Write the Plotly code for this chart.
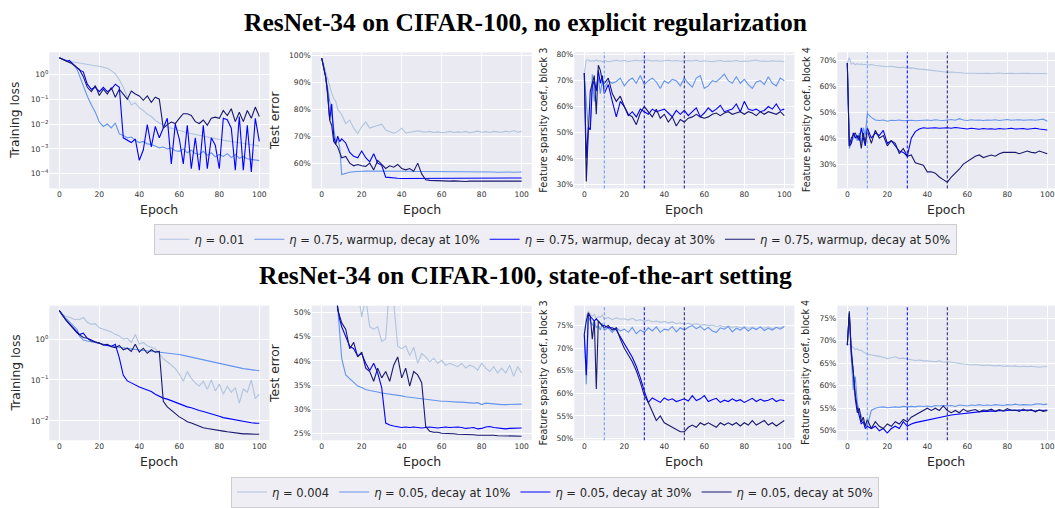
import plotly.graph_objects as go

# ---------------- data ----------------
EPOCHS = [0, 1, 2, 3, 4, 5, 6, 7, 8, 9,
          10, 12, 14, 16, 18, 20, 22, 24, 26, 28,
          30, 32, 34, 36, 38, 40, 42, 44, 46, 48,
          50, 52, 54, 56, 58, 60, 62, 64, 66, 68,
          70, 72, 74, 76, 78, 80, 82, 84, 86, 88,
          90, 92, 94, 96, 98, 100]

NOREG_LABELS = ["<i>η</i> = 0.01", "<i>η</i> = 0.75, warmup, decay at 10%",
                "<i>η</i> = 0.75, warmup, decay at 30%", "<i>η</i> = 0.75, warmup, decay at 50%"]
SOTA_LABELS = ["<i>η</i> = 0.004", "<i>η</i> = 0.05, decay at 10%",
               "<i>η</i> = 0.05, decay at 30%", "<i>η</i> = 0.05, decay at 50%"]
DECAY_EPOCHS = [10, 30, 50]

# Row 1: no explicit regularization -- training loss
NOREG_LOSS_LR001 = [4.6, 4.3, 4.0, 3.7, 3.5, 3.3, 3.2, 3.1, 3.0, 2.85,
                    2.7, 2.5, 2.4, 2.3, 2.2, 2.1, 1.9, 1.75, 1.4, 1.05,
                    0.6, 0.3, 0.12, 0.06, 0.07, 0.045, 0.035, 0.025, 0.02, 0.014,
                    0.011, 0.009, 0.0075, 0.0068, 0.006, 0.0055, 0.005, 0.0045, 0.0042, 0.0038,
                    0.0036, 0.0033, 0.003, 0.0028, 0.0026, 0.0024, 0.0022, 0.0021, 0.002, 0.0019,
                    0.0018, 0.0017, 0.0016, 0.0015, 0.0014, 0.0013]
NOREG_LOSS_D10 = [4.6, 4.3, 4.0, 3.7, 3.4, 3.1, 2.8, 2.4, 2.0, 1.5,
                  0.9, 0.35, 0.13, 0.06, 0.03, 0.012, 0.008, 0.01, 0.007, 0.011,
                  0.004, 0.0035, 0.0028, 0.003, 0.0022, 0.0018, 0.002, 0.0016, 0.0015, 0.0013,
                  0.0011, 0.0012, 0.001, 0.0011, 0.00085, 0.0008, 0.001, 0.0007, 0.0009, 0.00065,
                  0.0006, 0.0008, 0.00055, 0.0007, 0.00048, 0.0006, 0.0005, 0.00065, 0.00045, 0.0006,
                  0.00042, 0.0005, 0.0004, 0.00038, 0.00036, 0.00034]
NOREG_LOSS_D30 = [4.6, 4.2, 3.9, 3.5, 3.3, 3.6, 3.0, 2.6, 2.2, 1.9,
                  1.5, 1.25, 0.4, 0.25, 0.3, 0.2, 0.3, 0.2, 0.25, 0.4,
                  0.3, 0.0028, 0.0022, 0.0018, 0.0025, 0.00035, 0.0009, 0.0095, 0.0012, 0.008,
                  0.0028, 0.0068, 0.017, 0.00025, 0.01, 0.0025, 0.00025, 0.009, 0.00016, 0.0028,
                  0.00014, 0.009, 0.00016, 0.0028, 0.0014, 0.00016, 0.017, 0.015, 0.0068, 0.00014,
                  0.02, 0.00014, 0.009, 0.00012, 0.017, 0.002]
NOREG_LOSS_D50 = [4.6, 4.2, 3.8, 3.4, 3.2, 3.0, 2.8, 2.5, 2.1, 1.8,
                  1.6, 0.8, 0.3, 0.2, 0.35, 0.14, 0.25, 0.16, 0.29, 0.12,
                  0.25, 0.16, 0.1, 0.21, 0.16, 0.135, 0.09, 0.135, 0.075, 0.12,
                  0.1, 0.0068, 0.0095, 0.012, 0.0105, 0.017, 0.026, 0.026, 0.022, 0.0125,
                  0.0105, 0.0145, 0.009, 0.017, 0.019, 0.017, 0.035, 0.022, 0.041, 0.0125,
                  0.03, 0.0125, 0.035, 0.017, 0.048, 0.02]

# Row 1 -- test error (%)
NOREG_ERR_LR001 = [99, 97, 94, 91, 88, 86, 84, 83, 80, 79,
                   78, 74.7, 76, 73, 71, 73.5, 75.3, 73, 73.5, 74,
                   74.5, 72.3, 71.7, 71.1, 71.8, 73, 71.2, 71.5, 71.8, 72,
                   71.7, 71.5, 71.8, 71.4, 71.6, 71.3, 71.5, 71.8, 71.4, 71.6,
                   71.5, 71.8, 71.3, 71.6, 71.9, 71.5, 71.7, 71.4, 71.8, 71.6,
                   71.5, 71.9, 71.6, 72.1, 71.5, 71.8]
NOREG_ERR_D10 = [99, 96, 92, 88, 83, 78, 72, 68, 69, 66,
                 55.8, 56.3, 56.6, 56.8, 57, 57, 57.1, 57.1, 57.2, 57.2,
                 57.2, 57.1, 57.2, 57.1, 57.0, 57.1, 57.0, 57.0, 56.9, 57.0,
                 56.9, 56.9, 56.9, 56.8, 56.9, 56.8, 56.8, 56.8, 56.7, 56.8,
                 56.8, 56.7, 56.8, 56.7, 56.7, 56.8, 56.7, 56.7, 56.7, 56.6,
                 56.7, 56.6, 56.7, 56.6, 56.7, 56.7]
NOREG_ERR_D30 = [99, 96, 92, 86, 76, 82, 70, 67, 70, 68,
                 69, 67.5, 64, 62.5, 62, 64.5, 62, 60.5, 63.5, 60,
                 59.2, 54.8, 54.6, 54.5, 54.4, 54.3, 54.3, 54.4, 54.3, 54.4,
                 54.4, 54.5, 54.4, 54.4, 54.5, 54.4, 54.4, 54.3, 54.4, 54.4,
                 54.3, 54.4, 54.4, 54.3, 54.4, 54.4, 54.5, 54.5, 54.4, 54.4,
                 54.5, 54.4, 54.4, 54.5, 54.5, 54.5]
NOREG_ERR_D50 = [99, 96, 92, 85, 76, 74, 68, 67, 66, 64,
                 62, 62.5, 60, 59, 59.5, 59, 58.8, 60, 57.5, 61,
                 59.5, 58, 59, 58.5, 59.5, 58, 57.5, 58, 57, 60,
                 56, 53.8, 53.6, 53.5, 53.5, 53.4, 53.4, 53.3, 53.4, 53.3,
                 53.3, 53.2, 53.3, 53.3, 53.2, 53.3, 53.3, 53.2, 53.3, 53.3,
                 53.2, 53.3, 53.2, 53.3, 53.3, 53.3]

# Row 1 -- feature sparsity, block 3 (%)
NOREG_SP3_LR001 = [73, 78, 78, 77.5, 77.8, 77.5, 78, 77.5, 77.8, 77.2,
                   77.8, 77.3, 77.6, 77.9, 77.5, 77.8, 77.4, 77.7, 77.9, 77.6,
                   78.1, 77.9, 77.6, 77.8, 77.5, 77.7, 77.9, 77.6, 77.8, 77.5,
                   77.7, 77.8, 77.6, 77.9, 77.4, 77.7, 77.5, 77.3, 77.6, 77.8,
                   77.4, 77.6, 77.5, 77.8, 77.4, 77.6, 77.5, 77.7, 78.0, 77.5,
                   77.6, 77.4, 77.7, 77.5, 77.6, 77.3]
NOREG_SP3_D10 = [73, 60, 51, 52, 72.5, 62, 68, 71, 65, 70,
                 67, 70, 69, 69.7, 71, 68, 70, 71, 69, 72,
                 68.5, 70, 71, 69.5, 67, 70, 69, 70.5, 70, 68,
                 71, 69, 67.5, 71, 72, 67, 68, 70, 69.5, 71,
                 72.5, 70, 69, 71.5, 69, 70.5, 68.5, 67, 69.5, 70,
                 68.5, 71.5, 69, 68, 71, 70]
NOREG_SP3_D30 = [73, 40, 52, 51, 68, 70, 66, 74, 69, 72,
                 65, 68.5, 62, 56, 62, 60, 56.5, 58, 56, 59,
                 58, 57, 59, 58, 58.5, 59, 57.5, 56, 58.5, 57,
                 58.5, 56.5, 58, 59.5, 56, 57.5, 59.5, 58, 59, 60.5,
                 58, 58.5, 59, 61, 58, 62, 59, 58.5, 59, 58,
                 58.5, 60, 59, 61, 58.5, 59]
NOREG_SP3_D50 = [73, 31, 50, 66, 69, 72, 57, 76, 74, 70,
                 69, 71, 65, 62, 64, 60, 57, 56, 53, 57.5,
                 60, 58, 56, 59, 55.5, 57, 54, 56, 52.5, 55,
                 54, 55.5, 56, 57, 56, 55.5, 56, 57, 57.5, 56.5,
                 57.5, 58, 57, 57.5, 58, 57, 58, 57.5, 56.5, 58,
                 57, 58, 57.5, 57, 58, 56.5]

# Row 1 -- feature sparsity, block 4 (%)
NOREG_SP4_LR001 = [69, 71, 68.5, 69, 68.3, 68.7, 68.4, 68.6, 68.3, 68.5,
                   68.2, 68.4, 68.0, 67.8, 67.6, 67.5, 67.7, 67.4, 67.2, 67.3,
                   67.0, 67.1, 66.8, 66.6, 66.5, 66.3, 66.2, 66.0, 65.8, 65.6,
                   65.4, 65.5, 65.3, 65.2, 65.1, 65.0, 65.1, 65.0, 64.9, 65.0,
                   65.0, 64.9, 65.0, 65.1, 64.9, 65.0, 65.0, 64.9, 65.0, 64.9,
                   65.0, 64.9, 64.8, 64.9, 64.9, 64.8]
NOREG_SP4_D10 = [69, 36, 38, 40, 41, 39, 42, 38, 44, 41,
                 49.5, 48, 47, 46.8, 47, 46.5, 46.9, 46.8, 47.0, 46.7,
                 46.8, 46.9, 46.7, 46.8, 46.9, 47.0, 46.8, 47.1, 46.9, 46.8,
                 47.0, 47.2, 46.9, 47.5, 47.0, 46.8, 47.1, 46.9, 47.0, 46.8,
                 47.0, 46.9, 47.1, 46.8, 47.0, 47.2, 46.9, 47.0, 47.1, 46.9,
                 47.0, 47.1, 46.9, 47.2, 47.3, 46.5]
NOREG_SP4_D30 = [69, 37, 38, 42, 40, 41, 39, 44, 40, 37,
                 44, 40, 42, 41, 43, 38, 39, 37, 35, 34.5,
                 33, 40, 42.5, 43.5, 44, 43.8, 43.9, 44.0, 43.8, 43.9,
                 44.0, 43.8, 44.1, 43.9, 43.6, 43.5, 43.8, 43.6, 43.4, 43.7,
                 43.5, 43.6, 43.4, 43.7, 43.5, 43.6, 43.8, 43.5, 43.6, 43.7,
                 43.4, 43.6, 43.8, 43.5, 43.4, 43.1]
NOREG_SP4_D50 = [69, 37, 40, 41, 42, 40, 41, 36, 42, 38,
                 43, 38, 43, 40, 41, 37, 39, 38, 34, 36,
                 33, 33.5, 30.5, 30, 29.5, 27, 27, 26.5, 25, 24,
                 23, 25, 26.5, 28, 30, 31, 32, 33, 33.5, 32.5,
                 33, 33.5, 33, 34, 34.5, 34.5, 34.3, 34.5, 34, 34.5,
                 35, 34.5, 34.3, 35, 34.5, 34]

# Row 2: state-of-the-art setting -- training loss
SOTA_LOSS_LR0004 = [5.0, 4.3, 3.9, 3.7, 3.6, 3.4, 3.3, 3.1, 3.0, 3.1,
                    3.0, 3.4, 2.6, 2.3, 2.4, 1.9, 1.75, 1.6, 1.5, 1.31,
                    1.2, 1.0, 1.05, 0.83, 1.3, 0.76, 0.83, 0.69, 0.63, 0.58,
                    0.44, 0.33, 0.28, 0.23, 0.19, 0.14, 0.093, 0.16, 0.11, 0.085,
                    0.071, 0.093, 0.059, 0.1, 0.054, 0.08, 0.045, 0.07, 0.05, 0.065,
                    0.027, 0.06, 0.05, 0.1, 0.035, 0.045]
SOTA_LOSS_D10 = [5.0, 4.3, 3.8, 3.3, 3.0, 2.7, 2.4, 2.2, 2.0, 1.7,
                 1.2, 0.95, 0.9, 0.86, 0.8, 0.76, 0.73, 0.7, 0.68, 0.66,
                 0.63, 0.61, 0.59, 0.57, 0.55, 0.53, 0.52, 0.51, 0.5, 0.49,
                 0.48, 0.47, 0.45, 0.44, 0.43, 0.42, 0.4, 0.38, 0.36, 0.35,
                 0.33, 0.31, 0.3, 0.28, 0.265, 0.25, 0.24, 0.23, 0.22, 0.21,
                 0.2, 0.19, 0.185, 0.178, 0.172, 0.168]
SOTA_LOSS_D30 = [5.0, 4.2, 3.6, 3.1, 2.7, 2.4, 2.1, 1.85, 1.65, 1.45,
                 1.3, 1.4, 1.05, 0.95, 0.85, 0.8, 0.72, 0.7, 0.66, 0.75,
                 0.35, 0.13, 0.095, 0.085, 0.075, 0.067, 0.062, 0.057, 0.052, 0.045,
                 0.04, 0.036, 0.034, 0.031, 0.028, 0.026, 0.024, 0.022, 0.021, 0.019,
                 0.018, 0.017, 0.016, 0.015, 0.0142, 0.013, 0.012, 0.0115, 0.011, 0.0104,
                 0.01, 0.0095, 0.0092, 0.009, 0.0088, 0.0087]
SOTA_LOSS_D50 = [5.0, 4.2, 3.6, 3.1, 2.7, 2.4, 2.1, 1.85, 1.6, 1.4,
                 1.3, 1.1, 1.05, 0.9, 0.85, 0.8, 0.72, 0.75, 0.65, 0.62,
                 0.7, 0.55, 0.6, 0.5, 0.75, 0.48, 0.6, 0.45, 0.55, 0.48,
                 0.5, 0.03, 0.022, 0.018, 0.015, 0.0125, 0.011, 0.0095, 0.0088, 0.008,
                 0.0072, 0.0068, 0.0065, 0.0062, 0.006, 0.0058, 0.0056, 0.0054, 0.0052, 0.005,
                 0.0049, 0.0048, 0.0048, 0.0047, 0.0047, 0.0047]

# Row 2 -- test error (%)
SOTA_ERR_LR0004 = [99, 96, 92, 88, 85, 82, 79, 76, 74, 72,
                   70, 66, 62, 58, 55, 49, 53, 47, 46.5, 47,
                   44, 44.5, 56, 52, 43, 42.5, 43.1, 41.1, 42.8, 39.5,
                   41.5, 40.8, 39.8, 40.5, 39.5, 40.1, 39.1, 39.5, 39.1, 38.8,
                   39.5, 38.5, 39.1, 38.8, 38.1, 39.5, 38.5, 37.8, 38.8, 37.5,
                   38.5, 37.5, 39.1, 36.8, 38.8, 37.5]
SOTA_ERR_D10 = [99, 95, 90, 84, 76, 68, 60, 55, 51, 46,
                40.5, 37.1, 36.3, 35.7, 34.8, 34.5, 34.1, 33.9, 33.8, 33.6,
                33.4, 33.3, 33.1, 33.0, 32.9, 32.8, 32.6, 32.5, 32.3, 32.2,
                32.1, 32.0, 32.0, 31.9, 31.8, 31.7, 31.7, 31.6, 31.6, 31.5,
                31.5, 31.4, 31.4, 31.3, 31.4, 31.0, 31.3, 31.2, 31.1, 31.1,
                31.0, 31.0, 31.0, 31.0, 31.1, 31.1]
SOTA_ERR_D30 = [99, 95, 90, 84, 76, 68, 60, 55, 51, 48.5,
                47, 45, 43, 42.5, 41, 41.5, 39.5, 38, 39.5, 37.5,
                34.5, 27.2, 26.8, 26.6, 26.5, 26.3, 26.4, 26.3, 26.4, 26.3,
                26.2, 26.3, 26.4, 26.3, 26.2, 26.3, 26.4, 26.3, 26.4, 26.4,
                26.3, 26.1, 26.2, 26.3, 26.0, 26.1, 26.4, 26.5, 26.3, 26.2,
                26.1, 26.0, 26.1, 26.1, 26.2, 26.2]
SOTA_ERR_D50 = [99, 95, 90, 84, 76, 68, 60, 55, 50.5, 49,
                47.8, 46.5, 42.5, 43.8, 40.8, 41.8, 38.5, 37.8, 35.8, 38.5,
                36.5, 37.8, 35.8, 39.1, 40.8, 36.5, 38.5, 34.8, 37.8, 37.1,
                35.5, 26.5, 25.5, 25.3, 25.3, 25.1, 25.1, 25.0, 25.0, 24.9,
                24.9, 24.8, 24.8, 24.8, 24.7, 24.7, 24.7, 24.8, 24.7, 24.6,
                24.6, 24.6, 24.5, 24.5, 24.5, 24.5]

# Row 2 -- feature sparsity, block 3 (%)
SOTA_SP3_LR0004 = [73, 77, 78.1, 77.5, 77, 77.5, 76.5, 77, 76.8, 77.3,
                   76.5, 76.8, 76.3, 76.7, 76.4, 76.5, 76.2, 76.6, 76.1, 76.3,
                   75.9, 76.2, 75.8, 76.0, 75.7, 75.9, 75.6, 75.8, 75.4, 75.6,
                   75.3, 75.5, 75.2, 75.4, 75.1, 75.2, 75.0, 75.1, 74.8, 75.0,
                   74.7, 74.9, 74.6, 74.8, 74.5, 74.7, 74.4, 74.6, 74.3, 74.6,
                   74.4, 74.7, 74.3, 74.6, 74.5, 74.8]
SOTA_SP3_D10 = [73, 62, 77, 76, 75, 76, 74.5, 75, 74, 75.5,
                74, 74.5, 73.5, 74.5, 73.8, 74.2, 73.5, 74.6, 73.2, 74.0,
                73.5, 74.5, 73.8, 74.7, 73.5, 74.2, 74.0, 74.8, 73.6, 74.5,
                74.0, 74.6, 75.0, 74.3, 74.8, 74.0, 74.6, 73.8, 73.5, 74.5,
                74.2, 74.8, 73.6, 74.4, 74.0, 74.6, 73.8, 74.5, 74.1, 74.7,
                73.9, 74.4, 74.0, 74.6, 74.2, 74.8]
SOTA_SP3_D30 = [73, 64, 77.5, 77, 76.5, 76, 76.5, 76, 75.5, 75,
                75, 74.5, 74.5, 74, 72.5, 71, 69.5, 68, 66, 63.5,
                60.5, 58, 59, 58.5, 58, 59, 58.5, 58.8, 58.2, 58.5,
                58.8, 58.3, 59.5, 58.4, 58.8, 59.5, 58.2, 58.6, 58.9, 58.0,
                58.5, 58.2, 58.8, 58.3, 58.6, 58.0, 58.4, 58.9, 58.2, 58.7,
                58.3, 58.5, 58.9, 58.2, 58.6, 58.4]
SOTA_SP3_D50 = [73, 76, 77.8, 77, 72, 76, 61, 76, 75.5, 75,
                74.5, 75, 74, 74.5, 72, 70, 68.5, 67, 65, 62.5,
                59.5, 58, 56, 54, 55, 53.5, 53, 52.5, 52, 51.5,
                51.5, 52.5, 53, 52.5, 53.5, 53, 53.5, 53, 52.5, 53.5,
                53, 53.5, 53, 53.5, 52.8, 53.5, 53, 54, 53, 53.5,
                54, 53, 53.5, 52.8, 53.5, 54]

# Row 2 -- feature sparsity, block 4 (%)
SOTA_SP4_LR0004 = [69, 69.2, 68.8, 68.5, 68, 68.2, 67.8, 67.9, 67.5, 67.3,
                   67, 66.8, 66.7, 66.5, 66.3, 66.0, 66.2, 66.4, 66.0, 66.1,
                   65.9, 65.8, 65.6, 65.7, 65.5, 65.5, 65.4, 65.3, 65.5, 65.2,
                   65.3, 65.2, 65.0, 64.9, 64.8, 64.8, 64.6, 64.7, 64.6, 64.5,
                   64.6, 64.5, 64.4, 64.5, 64.3, 64.4, 64.3, 64.4, 64.2, 64.3,
                   64.2, 64.3, 64.2, 64.1, 64.2, 64.3]
SOTA_SP4_D10 = [69, 76, 66, 59, 62, 56, 54.5, 53, 52, 51.5,
                51, 54.5, 55, 55.2, 55.3, 55.1, 55.2, 55.3, 55.2, 55.4,
                55.3, 55.4, 55.3, 55.5, 55.4, 55.5, 55.3, 55.6, 55.5, 55.6,
                55.5, 55.6, 55.4, 55.7, 55.6, 55.5, 55.7, 55.6, 55.8, 55.6,
                55.7, 55.6, 55.8, 55.7, 55.6, 55.8, 55.7, 55.9, 55.7, 55.8,
                55.8, 55.7, 55.9, 56.0, 55.8, 55.9]
SOTA_SP4_D30 = [69, 76, 68, 62, 58, 55, 53, 51.5, 52, 50.5,
                51, 50.5, 51, 50, 50.5, 49.5, 50.5, 51, 50.5, 52,
                51, 51.5, 51.8, 52, 52.2, 52.4, 52.6, 52.8, 53.0, 53.2,
                53.4, 53.5, 53.6, 53.7, 53.8, 54.0, 54.0, 54.1, 54.2, 54.3,
                54.3, 54.4, 54.3, 54.5, 54.4, 54.5, 54.6, 54.5, 54.6, 54.5,
                54.6, 54.5, 54.4, 54.6, 54.5, 54.6]
SOTA_SP4_D50 = [69, 76.5, 67, 63, 57, 54, 55, 52, 53, 51,
                52.5, 50.5, 52, 51, 50.5, 51.5, 51, 52, 51.5, 52.5,
                52, 53, 53.5, 54, 54.5, 55, 54.5, 55, 54.5, 55.5,
                54.5, 54, 54.5, 54, 54.8, 54.3, 54.5, 54.7, 54.2, 54.6,
                54.5, 54.8, 54.3, 54.7, 54.4, 54.9, 54.5, 54.6, 54.3, 54.8,
                54.4, 54.7, 54.2, 54.6, 54.3, 54.5]

# ---------------- styling / layout ----------------
W, H = 1055, 508
COLORS = ["#B0C4DE", "#6495ED", "#0000FF", "#191970"]
BG = "#EAEAF2"
TICK_FONT = dict(family="DejaVu Sans", size=7.6, color="#333333")

COL_PX = [(49.3, 269.3), (311.7, 531.7), (574.3, 794.3), (837.3, 1055.0)]
COL_XRANGE = [[-5, 105], [-5, 105], [-5, 105], [-5, 103.85]]
ROW_PX = [(51.7, 191.7), (312.3, 450.7)]
YLABEL_X = [15.5, 275, 543.5, 806]
EPOCH_LABEL_Y = [213, 473]

LOG_TICKS = [1, 0.1, 0.01, 0.001, 0.0001]
LOG_TEXT = ["10<sup>0</sup>", "10<sup>−1</sup>", "10<sup>−2</sup>", "10<sup>−3</sup>", "10<sup>−4</sup>"]

panels = [
    # row, col, series, yrange, log?, ticks, ylabel, ylabel size
    (0, 0, [NOREG_LOSS_LR001, NOREG_LOSS_D10, NOREG_LOSS_D30, NOREG_LOSS_D50],
     [-4.586, 0.883], True, LOG_TICKS, "Training loss", 12.3),
    (0, 1, [NOREG_ERR_LR001, NOREG_ERR_D10, NOREG_ERR_D30, NOREG_ERR_D50],
     [50.6, 101.2], False, [60, 70, 80, 90, 100], "Test error", 12.3),
    (0, 2, [NOREG_SP3_LR001, NOREG_SP3_D10, NOREG_SP3_D30, NOREG_SP3_D50],
     [28.35, 80.98], False, [30, 40, 50, 60, 70, 80], "Feature sparsity coef., block 3", 9.7),
    (0, 3, [NOREG_SP4_LR001, NOREG_SP4_D10, NOREG_SP4_D30, NOREG_SP4_D50],
     [20.6, 73.1], False, [30, 40, 50, 60, 70], "Feature sparsity coef., block 4", 9.7),
    (1, 0, [SOTA_LOSS_LR0004, SOTA_LOSS_D10, SOTA_LOSS_D30, SOTA_LOSS_D50],
     [-2.476, 0.819], True, [1, 0.1, 0.01], "Training loss", 12.3),
    (1, 1, [SOTA_ERR_LR0004, SOTA_ERR_D10, SOTA_ERR_D30, SOTA_ERR_D50],
     [23.66, 51.34], False, [25, 30, 35, 40, 45, 50], "Test error", 12.3),
    (1, 2, [SOTA_SP3_LR0004, SOTA_SP3_D10, SOTA_SP3_D30, SOTA_SP3_D50],
     [49.63, 79.39], False, [50, 55, 60, 65, 70, 75], "Feature sparsity coef., block 3", 9.7),
    (1, 3, [SOTA_SP4_LR0004, SOTA_SP4_D10, SOTA_SP4_D30, SOTA_SP4_D50],
     [47.89, 77.74], False, [50, 55, 60, 65, 70, 75], "Feature sparsity coef., block 4", 9.7),
]

fig = go.Figure()
layout = dict(
    width=W, height=H, margin=dict(l=0, r=0, t=0, b=0),
    paper_bgcolor="white", plot_bgcolor=BG, hovermode=False,
    font=dict(family="DejaVu Sans", color="#262626"),
)
shapes, annotations = [], []

for k, (row, col, series, yr, is_log, ticks, ylabel, ysize) in enumerate(panels, start=1):
    sfx = "" if k == 1 else str(k)
    labels = NOREG_LABELS if row == 0 else SOTA_LABELS
    for i, vals in enumerate(series):
        assert len(vals) == len(EPOCHS), (k, i, len(vals))
        fig.add_trace(go.Scatter(
            x=EPOCHS, y=vals, mode="lines", name=labels[i],
            line=dict(color=COLORS[i], width=1.1),
            xaxis="x" + sfx, yaxis="y" + sfx,
            showlegend=(col == 0), legend="legend" if row == 0 else "legend2",
        ))
    x0, x1 = COL_PX[col]
    y0, y1 = ROW_PX[row]
    layout["xaxis" + sfx] = dict(
        domain=[x0 / W, x1 / W], range=COL_XRANGE[col], anchor="y" + sfx,
        tickvals=[0, 20, 40, 60, 80, 100], showgrid=True, gridcolor="white", gridwidth=1,
        zeroline=False, showline=False, ticks="", tickfont=TICK_FONT,
    )
    yax = dict(
        domain=[1 - y1 / H, 1 - y0 / H], anchor="x" + sfx,
        showgrid=True, gridcolor="white", gridwidth=1,
        zeroline=False, showline=False, ticks="", tickfont=TICK_FONT,
        tickvals=ticks,
    )
    if is_log:
        yax.update(type="log", range=yr, ticktext=LOG_TEXT[:len(ticks)])
    else:
        yax.update(range=yr, ticktext=[f"{t}%" for t in ticks])
    layout["yaxis" + sfx] = yax

    # axis titles
    annotations.append(dict(
        text="Epoch", xref="paper", yref="paper", x=(x0 + x1) / 2 / W,
        y=1 - EPOCH_LABEL_Y[row] / H, showarrow=False, xanchor="center", yanchor="middle",
        font=dict(family="DejaVu Sans", size=12.5, color="#262626")))
    annotations.append(dict(
        text=ylabel, xref="paper", yref="paper", x=YLABEL_X[col] / W,
        y=1 - (y0 + y1) / 2 / H, showarrow=False, textangle=-90,
        xanchor="center", yanchor="middle",
        font=dict(family="DejaVu Sans", size=ysize, color="#262626")))

    # decay markers in sparsity panels
    if col >= 2:
        for j, d in enumerate(DECAY_EPOCHS):
            shapes.append(dict(
                type="line", xref="x" + sfx, yref="y" + sfx + " domain",
                x0=d, x1=d, y0=0, y1=1,
                line=dict(color=COLORS[j + 1], width=1, dash="3px,2px")))

TITLE_FONT = dict(family="Liberation Serif", size=25.5, color="black")
annotations.append(dict(
    text="<b>ResNet-34 on CIFAR-100, no explicit regularization</b>",
    xref="paper", yref="paper", x=525 / W, y=1 - 21 / H, showarrow=False,
    xanchor="center", yanchor="middle", font=TITLE_FONT))
annotations.append(dict(
    text="<b>ResNet-34 on CIFAR-100, state-of-the-art setting</b>",
    xref="paper", yref="paper", x=525 / W, y=1 - 281 / H, showarrow=False,
    xanchor="center", yanchor="middle", font=TITLE_FONT))

LEGEND_STYLE = dict(
    orientation="h", xanchor="center", yanchor="top", x=555 / W,
    bgcolor="#EEEEF4", bordercolor="#CCCCCC", borderwidth=1,
    font=dict(family="DejaVu Sans", size=11.5, color="#262626"),
    itemwidth=30, tracegroupgap=0,
)
layout["legend"] = dict(LEGEND_STYLE, y=1 - 228 / H)
layout["legend2"] = dict(LEGEND_STYLE, y=1 - 488 / H)
layout["shapes"] = shapes
layout["annotations"] = annotations

fig.update_layout(**layout)
fig.write_html("out.html")
